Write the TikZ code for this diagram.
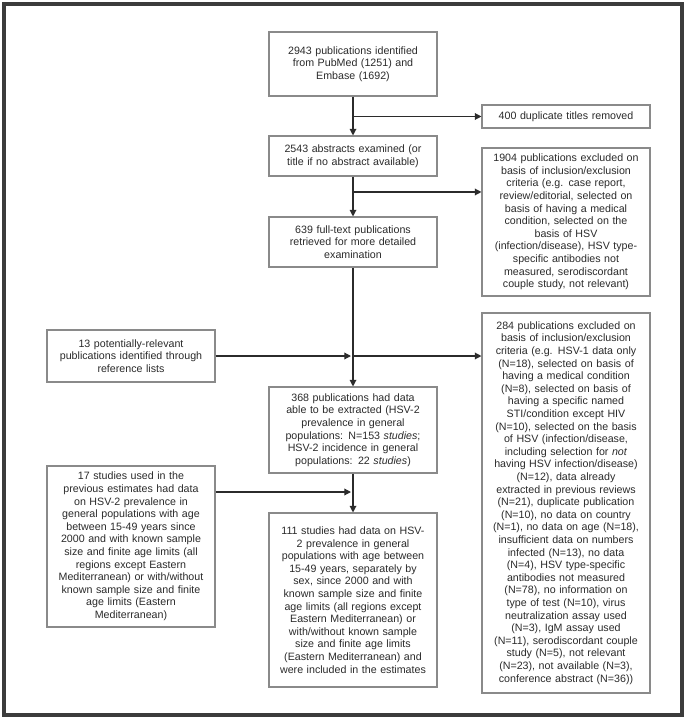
\documentclass[tikz,border=0pt]{standalone}
\usepackage{fontspec}
\setmainfont{Liberation Sans}
\usetikzlibrary{arrows.meta,calc}
\definecolor{boxline}{HTML}{8A8A8A}
\definecolor{ink}{HTML}{2B2B2B}
\definecolor{frameline}{HTML}{3C3C3C}

\begin{document}
\begin{tikzpicture}[
  x=0.75pt,y=-0.75pt,
  box/.style={draw=boxline,line width=0.8pt,fill=white,minimum width=126pt,minimum height=#1,text width=120pt,inner xsep=3pt,align=center,font=\fontsize{8}{9.45}\selectfont,text=ink},
  arr/.style={-{Triangle[length=5pt,width=5pt]},line width=0.9pt,draw=ink},
]
  \useasboundingbox (0,0) rectangle (688,720);
  \draw[frameline,line width=2.3pt] (4,4) rectangle (682,715);

  % Main column
  \node[box=48pt] (src) at (353,64) {2943 publications identified\\from PubMed (1251) and\\Embase (1692)};
  \node[box=30pt] (abs) at (353,156) {2543 abstracts examined (or\\title if no abstract available)};
  \node[box=37.5pt] (full) at (353,242) {639 full-text publications\\retrieved for more detailed\\examination};
  \node[box=64.5pt] (ext) at (353,430) {368 publications had data\\able to be extracted (HSV-2\\prevalence in general\\populations: N=153 \textit{studies};\\HSV-2 incidence in general\\populations: 22 \textit{studies})};
  \node[box=130.5pt] (incl) at (353,600) {111 studies had data on HSV-\\2 prevalence in general\\populations with age between\\15-49 years, separately by\\sex, since 2000 and with\\known sample size and finite\\age limits (all regions except\\Eastern Mediterranean) or\\with/without known sample\\size and finite age limits\\(Eastern Mediterranean) and\\were included in the estimates};

  % Exclusions
  \node[box=17.25pt] (dup) at (566,116.5) {400 duplicate titles removed};
  \node[box=111pt] (exc1) at (566,222) {1904 publications excluded on\\basis of inclusion/exclusion\\criteria (e.g. case report,\\review/editorial, selected on\\basis of having a medical\\condition, selected on the\\basis of HSV\\(infection/disease), HSV type-\\specific antibodies not\\measured, serodiscordant\\couple study, not relevant)};
  \node[box=285pt] (exc2) at (566,503) {284 publications excluded on\\basis of inclusion/exclusion\\criteria (e.g. HSV-1 data only\\(N=18), selected on basis of\\having a medical condition\\(N=8), selected on basis of\\having a specific named\\STI/condition except HIV\\(N=10), selected on the basis\\of HSV (infection/disease,\\including selection for \textit{not}\\having HSV infection/disease)\\(N=12), data already\\extracted in previous reviews\\(N=21), duplicate publication\\(N=10), no data on country\\(N=1), no data on age (N=18),\\insufficient data on numbers\\infected (N=13), no data\\(N=4), HSV type-specific\\antibodies not measured\\(N=78), no information on\\type of test (N=10), virus\\neutralization assay used\\(N=3), IgM assay used\\(N=11), serodiscordant couple\\study (N=5), not relevant\\(N=23), not available (N=3),\\conference abstract (N=36))};

  % Additional sources
  \node[box=39pt] (ref) at (131,356) {13 potentially-relevant\\publications identified through\\reference lists};
  \node[box=120.75pt] (prev) at (131,546.5) {17 studies used in the\\previous estimates had data\\on HSV-2 prevalence in\\general populations with age\\between 15-49 years since\\2000 and with known sample\\size and finite age limits (all\\regions except Eastern\\Mediterranean) or with/without\\known sample size and finite\\age limits (Eastern\\Mediterranean)};

  \coordinate (b1) at (src.south |- dup.west);
  \coordinate (b2) at (353,192);
  \coordinate (m1) at (ext.north |- ref.east);
  \coordinate (m2) at (353,492);

  \draw[arr] (src) -- (abs);
  \draw[arr] (b1) -- (dup.west);
  \draw[arr] (abs) -- (full);
  \draw[arr] (b2) -- (b2 -| exc1.west);
  \draw[arr] (full) -- (ext);
  \draw[arr,shorten >=1.5pt] (ref.east) -- (m1);
  \draw[arr] (m1) -- (m1 -| exc2.west);
  \draw[arr] (ext) -- (incl);
  \draw[arr,shorten >=1.5pt] (m2 -| prev.east) -- (m2);
\end{tikzpicture}
\end{document}
